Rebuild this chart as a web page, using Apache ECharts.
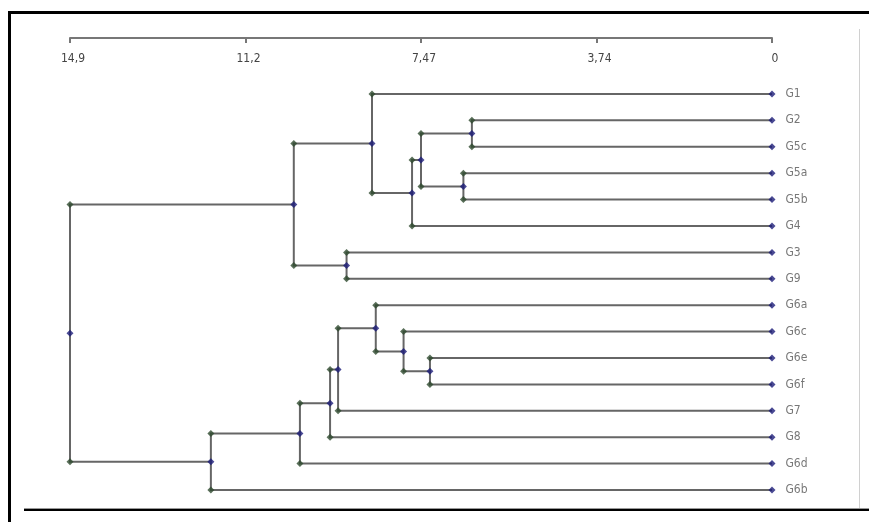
<!DOCTYPE html>
<html><head><meta charset="utf-8">
<script src="https://cdn.jsdelivr.net/npm/echarts@6/dist/echarts.min.js"></script>
<style>html,body{margin:0;padding:0;background:#fff}#c{width:869px;height:522px}</style>
</head><body><div id="c"></div>
<script>
// Leaves in display order (top to bottom)
var leaves = ['G1','G2','G5c','G5a','G5b','G4','G3','G9','G6a','G6c','G6e','G6f','G7','G8','G6d','G6b'];
// Merges: [child A, child B, distance]; children are leaf names or 'm<index>'
var mergeA = ['G2','G5a','m0','m2','G1','G3','m4','G6e','G6c','G6a','m9','m10','m11','m12','m6'];
var mergeB = ['G5c','G5b','m1','G4','m3','G9','m5','G6f','m7','m8','G7','G8','G6d','G6b','m13'];
var mergeD = [6.37, 6.55, 7.45, 7.64, 8.49, 9.03, 10.15, 7.26, 7.82, 8.41, 9.21, 9.38, 10.02, 11.91, 14.9];
// Axis tick labels
var tickValues = [0, 3.725, 7.45, 11.175, 14.9];
var tickLabels = ['0', '3,74', '7,47', '11,2', '14,9'];

var pos = {};
leaves.forEach(function (n, i) { pos[n] = [0, i]; });
var linesData = [], greenDots = [], blueDots = [];
leaves.forEach(function (n, i) { blueDots.push([0, i]); });
for (var k = 0; k < mergeD.length; k++) {
  var a = pos[mergeA[k]], b = pos[mergeB[k]], d = mergeD[k];
  linesData.push({coords: [[a[0], a[1]], [d, a[1]], [d, b[1]], [b[0], b[1]]]});
  greenDots.push([d, a[1]], [d, b[1]]);
  var ny = (a[1] + b[1]) / 2;
  pos['m' + k] = [d, ny];
  blueDots.push([d, ny]);
}
var leafData = leaves.map(function (n, i) { return {value: [0, i], name: n}; });

var FONT = '"Liberation Sans Narrow","DejaVu Sans Condensed",Arial,sans-serif';
var chart = echarts.init(document.getElementById('c'), null, {renderer: 'canvas'});
chart.setOption({
  animation: false,
  backgroundColor: '#fff',
  grid: {left: 70, right: 97, top: 38, bottom: 5.6, containLabel: false},
  xAxis: {
    type: 'value', position: 'top', inverse: true, min: 0, max: 14.9, interval: 3.725,
    axisLine: {show: true, onZero: false, lineStyle: {color: '#777', width: 2}},
    axisTick: {show: true, inside: true, length: 5, lineStyle: {color: '#777', width: 2}},
    splitLine: {show: false},
    axisLabel: {
      inside: true, margin: 15, color: '#444', fontSize: 12, fontFamily: FONT,
      padding: [0, 0, 0, 6],
      formatter: function (v) { return tickLabels[Math.round(v / 3.725)]; }
    }
  },
  yAxis: {type: 'value', inverse: true, min: -2.12, max: 16, show: false},
  graphic: [
    {type: 'rect', shape: {x: 8, y: 11, width: 861, height: 3}, style: {fill: '#000'}, z: 100},
    {type: 'rect', shape: {x: 8, y: 11, width: 3, height: 511}, style: {fill: '#000'}, z: 100},
    {type: 'rect', shape: {x: 24, y: 508, width: 845, height: 1}, style: {fill: '#999'}, z: 100},
    {type: 'rect', shape: {x: 24, y: 509, width: 845, height: 2}, style: {fill: '#000'}, z: 100},
    {type: 'rect', shape: {x: 859, y: 29, width: 1, height: 479}, style: {fill: '#d0d0d0'}, z: 100}
  ],
  series: [
    {
      type: 'lines', coordinateSystem: 'cartesian2d', polyline: true, silent: true,
      lineStyle: {color: '#666', width: 2, opacity: 1},
      data: linesData, z: 2
    },
    {
      type: 'scatter', symbol: 'diamond', symbolSize: 7, silent: true,
      itemStyle: {color: '#2e4a2e'}, data: greenDots, z: 3
    },
    {
      type: 'scatter', symbol: 'diamond', symbolSize: 7, silent: true,
      itemStyle: {color: '#1c1c78'}, data: blueDots, z: 4
    },
    {
      type: 'scatter', symbol: 'circle', symbolSize: 1, silent: true, data: leafData, z: 5,
      itemStyle: {color: 'rgba(0,0,0,0)'},
      label: {show: true, position: 'right', distance: 13, color: '#555', fontSize: 12, fontFamily: FONT,
        formatter: function (p) { return p.name; }}
    }
  ]
});
</script></body></html>
